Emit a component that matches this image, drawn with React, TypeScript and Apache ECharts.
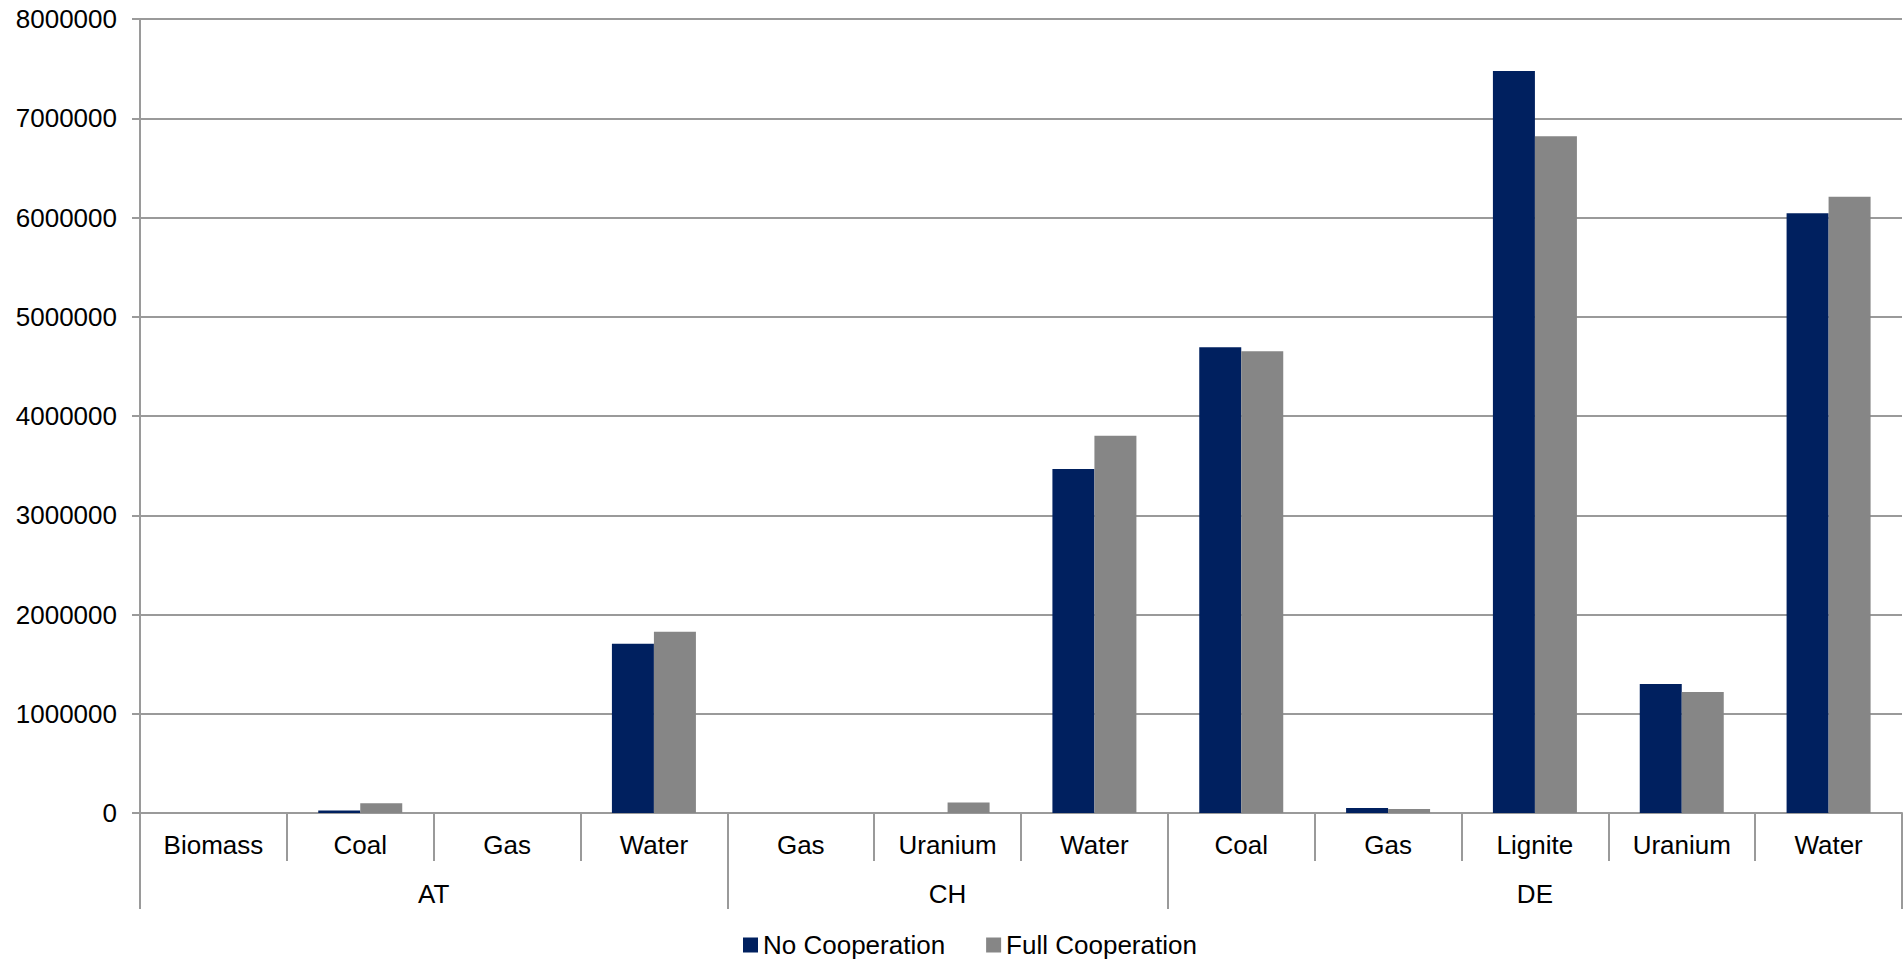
import React, { useEffect, useRef } from "react";
import * as echarts from "echarts";

// Generation per country and fuel type under two cooperation scenarios
const categories = [
  "Biomass", "Coal", "Gas", "Water",
  "Gas", "Uranium", "Water",
  "Coal", "Gas", "Lignite", "Uranium", "Water",
];
const countries = ["AT", "CH", "DE"];
const countrySpans = [4, 3, 5];
const seriesNames = ["No Cooperation", "Full Cooperation"];
const noCooperation = [0, 26000, 0, 1705000, 0, 0, 3465000, 4693000, 50000, 7476000, 1299000, 6043000];
const fullCooperation = [0, 97000, 0, 1826000, 0, 105000, 3800000, 4653000, 40000, 6818000, 1219000, 6210000];
const yTicks = [0, 1000000, 2000000, 3000000, 4000000, 5000000, 6000000, 7000000, 8000000];

const FONT = "'Liberation Sans', Arial, sans-serif";
const AXIS_GRAY = "#9a9a9a";

export default function App() {
  const ref = useRef<HTMLDivElement>(null);

  useEffect(() => {
    document.body.style.margin = "0";
    if (!ref.current) return;
    const chart = echarts.init(ref.current, null, { renderer: "svg" });

    // group boundaries and centres along the category axis
    const bounds: number[] = [0];
    countrySpans.forEach((s) => bounds.push(bounds[bounds.length - 1] + s));
    const mids = countrySpans.map((s, i) => bounds[i] + s / 2);

    chart.setOption({
      animation: false,
      textStyle: { fontFamily: FONT },
      grid: { left: 140, right: 2, top: 19, bottom: 147, containLabel: false },
      legend: {
        data: seriesNames,
        left: 738,
        top: 927,
        itemWidth: 15,
        itemHeight: 15,
        itemGap: 41,
        icon: "rect",
        textStyle: { fontSize: 26, color: "#000", fontFamily: FONT },
      },
      xAxis: [
        {
          type: "category",
          data: categories,
          position: "bottom",
          axisLine: { show: true, lineStyle: { color: AXIS_GRAY, width: 2 } },
          axisTick: {
            show: true,
            interval: 0,
            alignWithLabel: false,
            length: 48,
            lineStyle: { color: AXIS_GRAY, width: 2 },
          },
          axisLabel: { interval: 0, fontSize: 26, color: "#000", margin: 19, fontFamily: FONT },
          splitLine: { show: false },
        },
        {
          type: "value",
          min: 0,
          max: categories.length,
          position: "bottom",
          offset: 48,
          axisLine: { show: false },
          axisTick: {
            show: true,
            customValues: bounds,
            length: 48,
            lineStyle: { color: AXIS_GRAY, width: 2 },
          },
          axisLabel: {
            show: true,
            customValues: mids,
            fontSize: 26,
            color: "#000",
            margin: 20,
            fontFamily: FONT,
            formatter: (v: number) => {
              const i = mids.indexOf(v);
              return i >= 0 ? countries[i] : "";
            },
          },
          splitLine: { show: false },
        },
      ],
      yAxis: {
        type: "value",
        min: yTicks[0],
        max: yTicks[yTicks.length - 1],
        interval: yTicks[1] - yTicks[0],
        axisLine: { show: true, lineStyle: { color: AXIS_GRAY, width: 2 } },
        axisTick: { show: true, length: 8, lineStyle: { color: AXIS_GRAY, width: 2 } },
        axisLabel: {
          fontSize: 26,
          color: "#000",
          margin: 23,
          fontFamily: FONT,
          formatter: (v: number) => String(v),
        },
        splitLine: { show: true, lineStyle: { color: AXIS_GRAY, width: 2 } },
      },
      series: [
        {
          name: seriesNames[0],
          type: "bar",
          xAxisIndex: 0,
          data: noCooperation,
          barWidth: 42,
          barGap: "0%",
          itemStyle: { color: "#00205f" },
        },
        {
          name: seriesNames[1],
          type: "bar",
          xAxisIndex: 0,
          data: fullCooperation,
          barWidth: 42,
          barGap: "0%",
          itemStyle: { color: "#868686" },
        },
      ],
    });

    return () => chart.dispose();
  }, []);

  return (
    <div
      ref={ref}
      style={{ position: "absolute", left: 0, top: 0, width: 1904, height: 960 }}
    />
  );
}
